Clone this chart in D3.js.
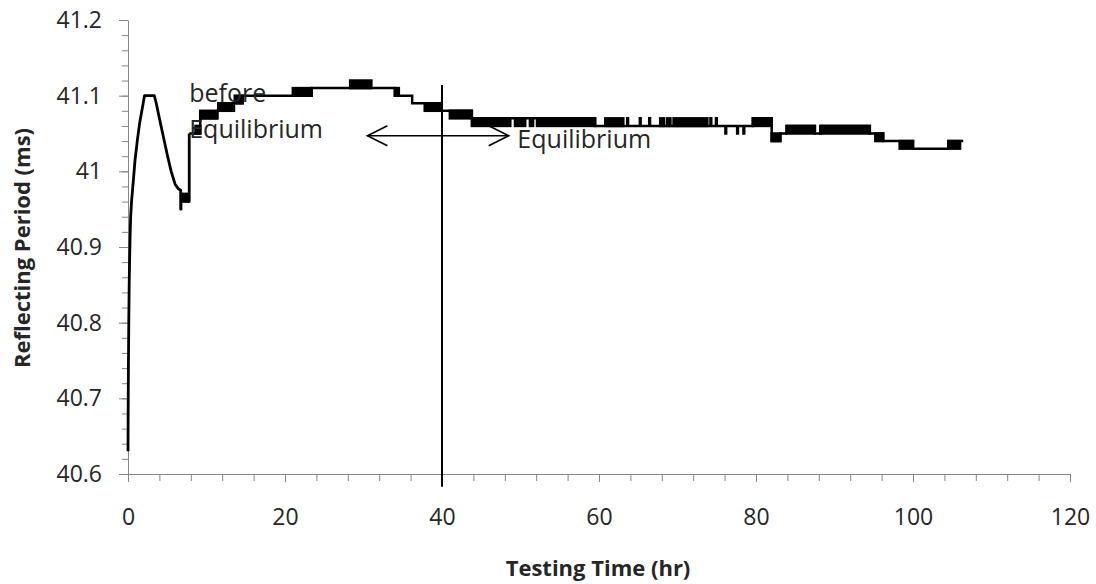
<!DOCTYPE html>
<html>
<head>
<meta charset="utf-8">
<script src="https://cdn.jsdelivr.net/npm/d3@7/dist/d3.min.js"></script>
<style>
  body { margin: 0; background: #fff; }
  text { font-family: "Open Sans", "Noto Sans", sans-serif; fill: #262626; }
</style>
</head>
<body>
<div class="reflect-chart"></div>
<script>
// axis ticks
const xTicks = [0, 20, 40, 60, 80, 100, 120];
const yTicks = [40.6, 40.7, 40.8, 40.9, 41, 41.1, 41.2];
const xMinorStep = 4;
const yMinorStep = 0.02;

// warm-up part of the run (hr, ms), joined with straight segments
const warmup = [
  [0, 40.63], [0.02, 40.68], [0.05, 40.74], [0.1, 40.8], [0.15, 40.85],
  [0.2, 40.88], [0.27, 40.915], [0.34, 40.94], [0.45, 40.96], [0.7, 40.99],
  [0.9, 41.015], [1.2, 41.042], [1.5, 41.065], [1.9, 41.088], [2.1, 41.1],
  [3.35, 41.1], [3.6, 41.09], [4.0, 41.07], [4.5, 41.046], [5.0, 41.022],
  [5.5, 41.0], [6.0, 40.983], [6.4, 40.977], [6.71, 40.975], [6.71, 40.95],
  [6.75, 40.95], [6.75, 40.97], [7.68, 40.97], [7.68, 40.96], [7.8, 40.96],
  [7.8, 41.05]
];

// stepped readings after the jump (hr, ms), resolution 0.01 ms
const readings = [
  [7.8, 41.05], [9.2, 41.07], [11.4, 41.08], [13.5, 41.09], [14.6, 41.1],
  [23.4, 41.11], [34.0, 41.1], [36.2, 41.09], [39.7, 41.08], [43.8, 41.07],
  [59.5, 41.06],
  [63.6, 41.07], [63.7, 41.06], [65.2, 41.07], [65.3, 41.06], [66.4, 41.07], [66.5, 41.06],
  [74.2, 41.07], [74.3, 41.06], [74.9, 41.07], [75.0, 41.06],
  [76.1, 41.05], [76.2, 41.06], [77.6, 41.05], [77.7, 41.06], [78.4, 41.05], [78.5, 41.06],
  [79.6, 41.07], [82.0, 41.04], [83.1, 41.05], [83.9, 41.06], [87.5, 41.05],
  [88.2, 41.06], [94.5, 41.05], [96.2, 41.04], [100.0, 41.03], [104.5, 41.04],
  [106.4, 41.04]
];

// stretches where the reading flickers between two levels (start hr, end hr, low, high)
const flicker = [
  [6.84, 7.68, 40.96, 40.97],
  [8.6, 9.2, 41.05, 41.06],
  [9.2, 11.3, 41.07, 41.08],
  [11.5, 13.4, 41.08, 41.09],
  [13.6, 14.6, 41.09, 41.1],
  [21.0, 23.4, 41.1, 41.11],
  [28.3, 31.0, 41.11, 41.12],
  [34.0, 34.5, 41.1, 41.11],
  [37.8, 39.7, 41.08, 41.09],
  [41.0, 43.8, 41.07, 41.08],
  [43.8, 48.7, 41.06, 41.07],
  [49.3, 50.6, 41.06, 41.07],
  [51.2, 51.6, 41.06, 41.07],
  [52.1, 59.5, 41.06, 41.07],
  [60.8, 63.1, 41.06, 41.07],
  [67.8, 68.3, 41.06, 41.07],
  [68.7, 69.1, 41.06, 41.07],
  [69.5, 73.8, 41.06, 41.07],
  [79.6, 82.0, 41.06, 41.07],
  [82.0, 83.1, 41.04, 41.05],
  [83.9, 87.5, 41.05, 41.06],
  [88.2, 94.5, 41.05, 41.06],
  [95.2, 96.2, 41.04, 41.05],
  [98.3, 100.0, 41.03, 41.04],
  [104.5, 106.0, 41.03, 41.04]
];

// annotations
const equilibriumHr = 40;
const markerRange = [40.583, 41.114];
const arrowHr = [30.5, 48.5];
const arrowMs = 41.047;
const notes = [
  { text: 'before', hr: 7.8, ms: 41.0916 },
  { text: 'Equilibrium', hr: 7.8, ms: 41.0435 },
  { text: 'Equilibrium', hr: 49.6, ms: 41.0308 }
];

const width = 1096;
const height = 584;

const svg = d3.select('.reflect-chart')
  .append('svg')
  .attr('width', width)
  .attr('height', height);

const x = d3.scaleLinear().domain([0, 120]).range([128, 1070]);
const y = d3.scaleLinear().domain([40.6, 41.2]).range([474, 20]);

const axisColor = '#868686';

// minor ticks first, major ticks on top
svg.append('g')
  .attr('transform', 'translate(128,0)')
  .call(d3.axisLeft(y).tickValues(d3.range(40.6, 41.2001, yMinorStep)).tickSize(6).tickSizeOuter(0).tickFormat(''))
  .call(g => g.select('.domain').remove());

svg.append('g')
  .attr('transform', 'translate(0,474)')
  .call(d3.axisBottom(x).tickValues(d3.range(0, 120.001, xMinorStep)).tickSize(7).tickSizeOuter(0).tickFormat(''))
  .call(g => g.select('.domain').remove());

svg.append('g')
  .attr('transform', 'translate(128,0)')
  .call(d3.axisLeft(y).tickValues(yTicks).tickSize(9).tickSizeOuter(0).tickPadding(17)
    .tickFormat(d => String(+d.toFixed(1))));

svg.append('g')
  .attr('transform', 'translate(0,474)')
  .call(d3.axisBottom(x).tickValues(xTicks).tickSize(8).tickSizeOuter(0).tickPadding(27));

svg.selectAll('.tick line, .domain').attr('stroke', axisColor);
svg.selectAll('.tick text')
  .attr('fill', '#262626')
  .style('font-family', '"Open Sans", sans-serif')
  .style('font-size', '23px');

// data line
const lineWidth = 2.5;

svg.append('g').selectAll('rect')
  .data(flicker)
  .join('rect')
  .attr('x', d => x(d[0]))
  .attr('width', d => x(d[1]) - x(d[0]))
  .attr('y', d => y(d[3]))
  .attr('height', d => y(d[2]) - y(d[3]))
  .attr('fill', '#000')
  .attr('stroke', '#000')
  .attr('stroke-width', lineWidth);

svg.append('path')
  .datum(warmup)
  .attr('fill', 'none')
  .attr('stroke', '#000')
  .attr('stroke-width', lineWidth + 0.3)
  .attr('stroke-linejoin', 'round')
  .attr('d', d3.line().x(d => x(d[0])).y(d => y(d[1])));

svg.append('path')
  .datum(readings)
  .attr('fill', 'none')
  .attr('stroke', '#000')
  .attr('stroke-width', lineWidth)
  .attr('d', d3.line().curve(d3.curveStepAfter).x(d => x(d[0])).y(d => y(d[1])));

// vertical line at 40 hr
svg.append('line')
  .attr('x1', x(equilibriumHr)).attr('x2', x(equilibriumHr))
  .attr('y1', y(markerRange[0])).attr('y2', y(markerRange[1]))
  .attr('stroke', '#000')
  .attr('stroke-width', 2);

// double headed arrow
const ay = y(arrowMs);
const ax0 = x(arrowHr[0]);
const ax1 = x(arrowHr[1]);
const arrow = svg.append('g')
  .attr('fill', 'none')
  .attr('stroke', '#000')
  .attr('stroke-width', 1.6);
arrow.append('line').attr('x1', ax0).attr('x2', ax1).attr('y1', ay).attr('y2', ay);
arrow.append('path').attr('d', `M${ax0 + 20},${ay - 10}L${ax0},${ay}L${ax0 + 20},${ay + 10}`);
arrow.append('path').attr('d', `M${ax1 - 20},${ay - 10}L${ax1},${ay}L${ax1 - 20},${ay + 10}`);

svg.append('g').selectAll('text')
  .data(notes)
  .join('text')
  .attr('x', d => x(d.hr))
  .attr('y', d => y(d.ms))
  .style('font-size', '25px')
  .text(d => d.text);

// axis titles
svg.append('text')
  .text('Testing Time (hr)')
  .attr('x', 598)
  .attr('y', 576)
  .attr('text-anchor', 'middle')
  .style('font-weight', 'bold')
  .style('font-size', '22px');

svg.append('text')
  .text('Reflecting Period (ms)')
  .attr('transform', 'translate(30,248) rotate(-90)')
  .attr('text-anchor', 'middle')
  .style('font-weight', 'bold')
  .style('font-size', '22px');
</script>
</body>
</html>
